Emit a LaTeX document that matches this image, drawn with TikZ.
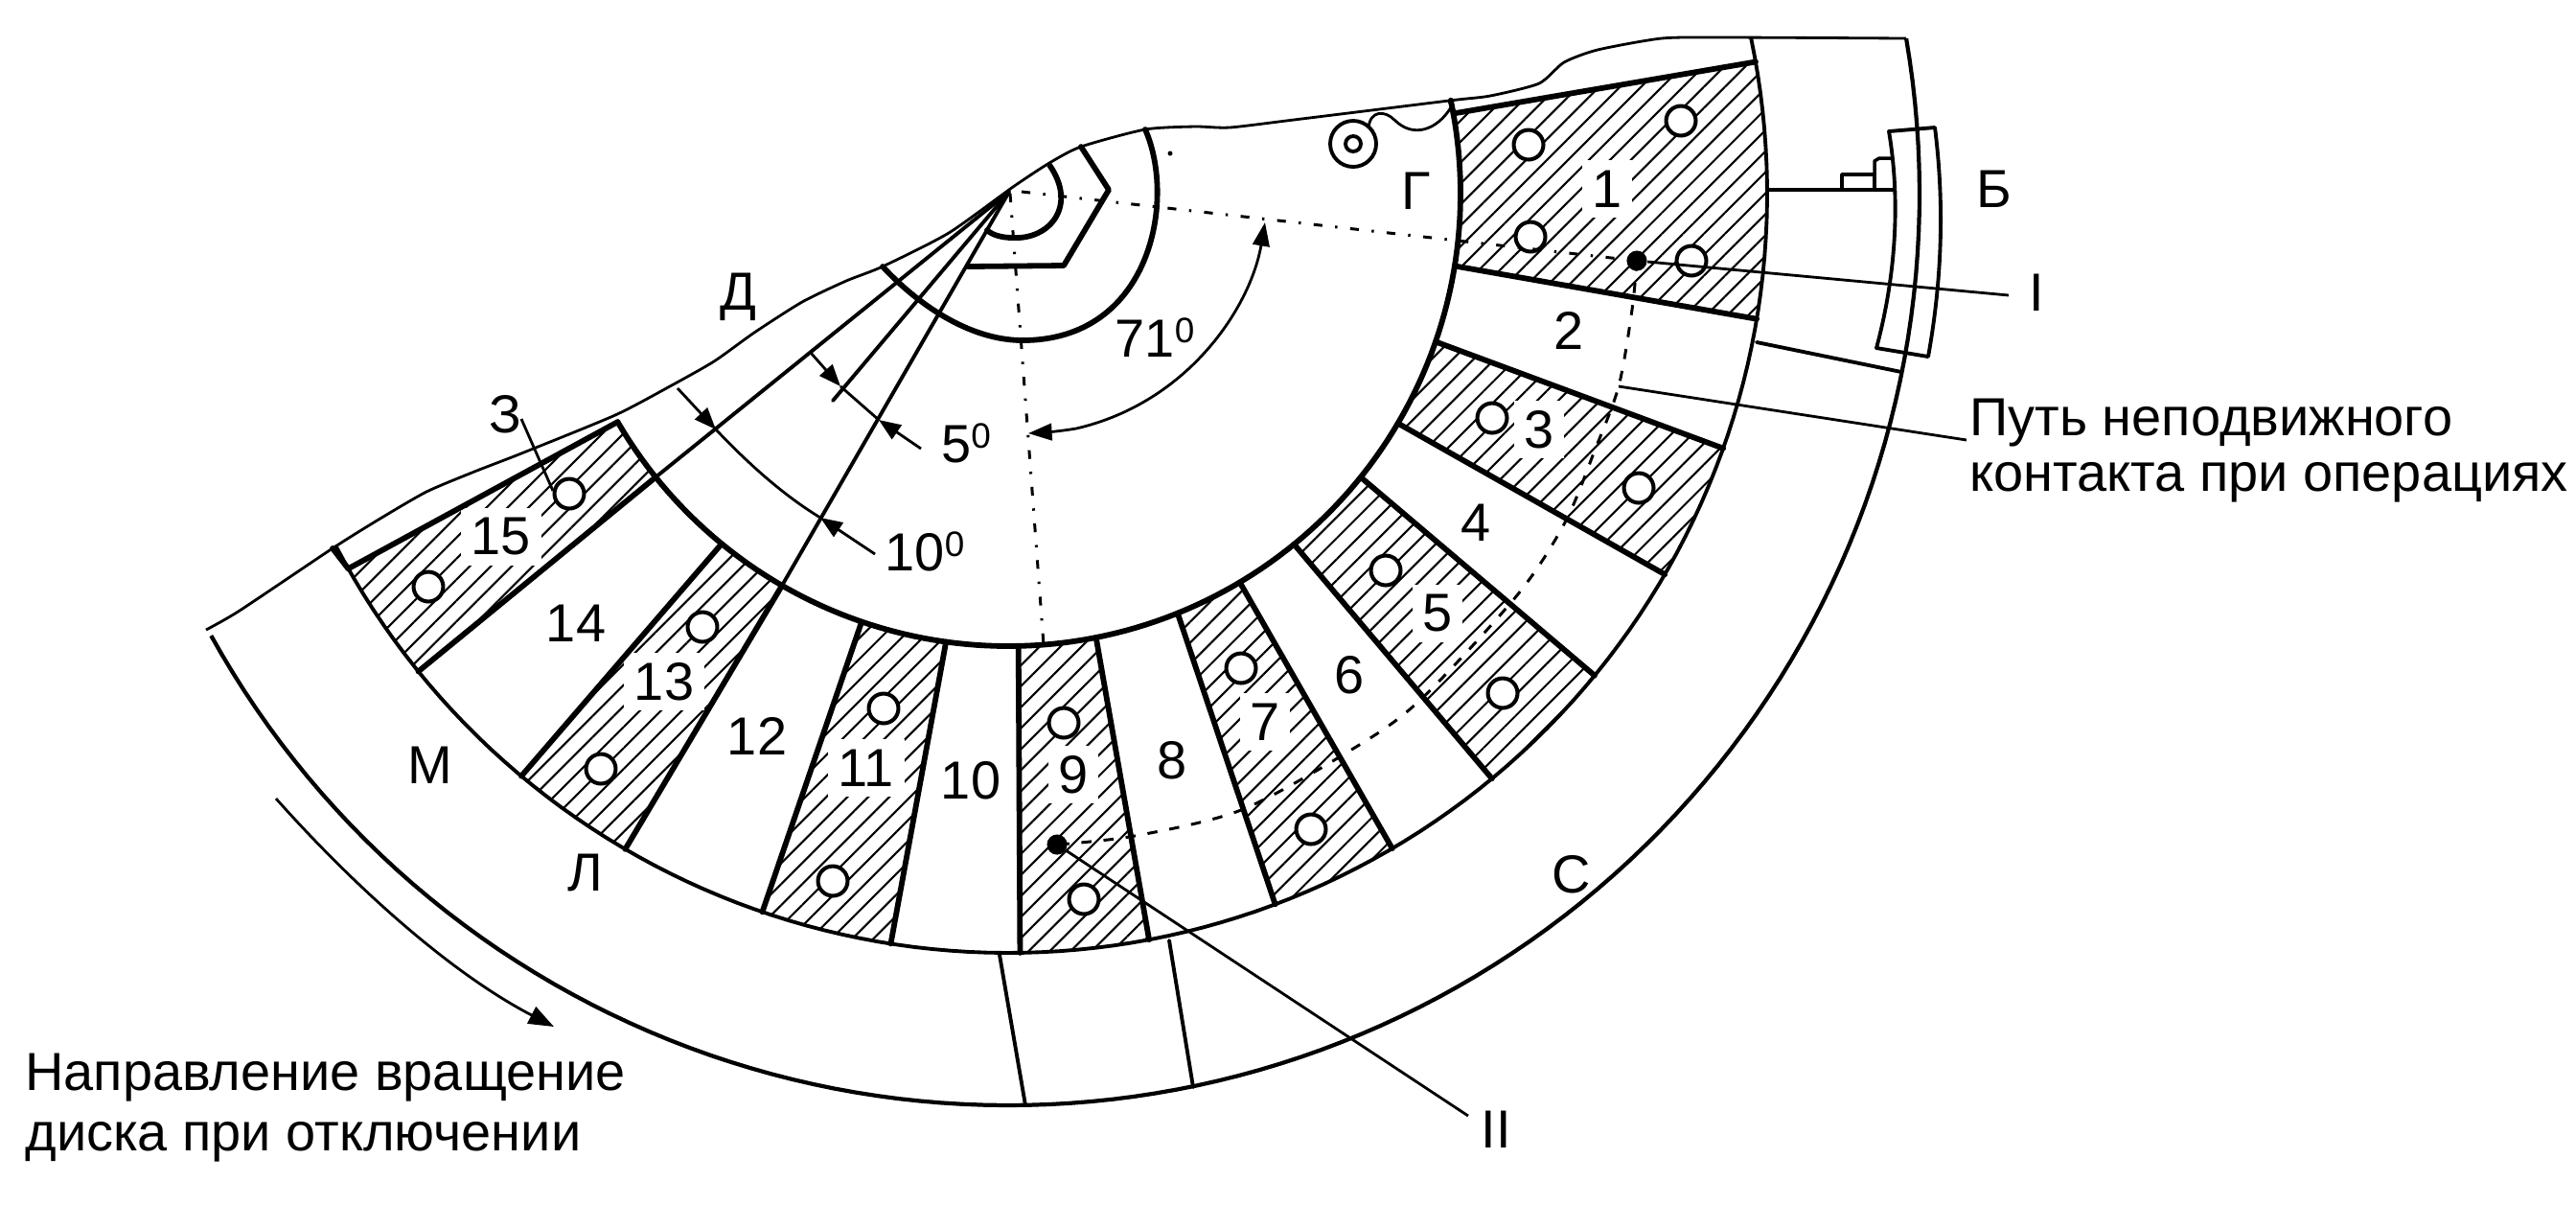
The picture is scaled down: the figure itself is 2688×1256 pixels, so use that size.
\documentclass[tikz,border=0pt]{standalone}
\usepackage{fontspec}
\setmainfont{Liberation Sans}
\usetikzlibrary{arrows.meta,patterns.meta}
\newcommand\degz[1]{#1\raisebox{4.3pt}{\fontsize{10.5}{10.5}\selectfont 0}}
\newcommand\bnd[3]{\coordinate (i#1) at ({1052+472*cos(#2)},{202+472*sin(#2)});\coordinate (o#1) at ({1052+792*cos(#3)},{202+792*sin(#3)});}
\newcommand\hsegm[6]{\fill[hatchfill] (i#1) -- (o#1) -- plot[domain=#3:#4,samples=20] ({1052+792*cos(\x)},{202+792*sin(\x)}) -- (i#2) -- plot[domain=#5:#6,samples=20] ({1052+472*cos(\x)},{202+472*sin(\x)}) -- cycle;}
\tikzset{
 hatchfill/.style={pattern={Lines[angle=45,distance=4.4pt,line width=0.6pt]},pattern color=black},
 thk/.style={line width=1.65pt,line cap=round},
 med/.style={line width=1.1pt,line cap=round},
 thn/.style={line width=0.8pt},
 ddot/.style={line width=0.85pt,dash pattern=on 2.6pt off 3.8pt on 0.7pt off 3.8pt},
 dsh/.style={line width=0.85pt,dash pattern=on 3pt off 3.6pt},
 lab/.style={font=\fontsize{15.9}{15.9}\selectfont,inner sep=0.5pt},
 num/.style={lab,fill=white,inner sep=3pt},
 hole/.style={circle,draw,fill=white,line width=1.15pt,inner sep=0pt,minimum size=8.8pt},
 spot/.style={circle,fill=black,inner sep=0pt,minimum size=6pt},
 tip/.style={-{Triangle[length=6.5pt,width=5pt]},thn},
}
\begin{document}
\begin{tikzpicture}[x=0.01cm,y=-0.01cm,line join=round]
\useasboundingbox (0,0) rectangle (2688,1256);
\bnd{0}{-10.2}{-10.0}\bnd{1}{9.2}{9.5}\bnd{2}{19.1}{19.6}\bnd{3}{30.5}{30.1}
\bnd{4}{38.8}{39.4}\bnd{5}{50.8}{50.4}\bnd{6}{59.2}{59.6}\bnd{7}{68}{69.4}
\bnd{8}{78.8}{79.3}\bnd{9}{88.7}{89.1}\bnd{10}{97.9}{98.9}\bnd{11}{108.9}{108.9}
\bnd{12}{120}{120.3}\bnd{13}{129.3}{129.9}\bnd{14}{141.2}{141}\bnd{15}{149.7}{150.4}
\hsegm{0}{1}{-10}{9.5}{9.2}{-10.2}
\hsegm{2}{3}{19.6}{30.1}{30.5}{19.1}
\hsegm{4}{5}{39.4}{50.4}{50.8}{38.8}
\hsegm{6}{7}{59.6}{69.4}{68}{59.2}
\hsegm{8}{9}{79.3}{89.1}{88.7}{78.8}
\hsegm{10}{11}{98.9}{108.9}{108.9}{97.9}
\hsegm{12}{13}{120.3}{129.9}{129.3}{120}
\hsegm{14}{15}{141}{150.4}{149.7}{141.2}
% numbers
\node[num] (n1) at (1677,197) {1};
\node[lab] (n2) at (1637,345) {2};
\node[num] (n3) at (1606,448) {3};
\node[lab] (n4) at (1540,545) {4};
\node[num] (n5) at (1500,640) {5};
\node[lab] (n6) at (1408,704) {6};
\node[num] (n7) at (1320,753) {7};
\node[lab] (n8) at (1223,793) {8};
\node[num] (n9) at (1120,808) {9};
\node[lab] (n10) at (1013,814) {10};
\node[num] (n11) at (904,801) {11};
\node[lab] (n12) at (790,768) {12};
\node[num] (n13) at (693,711) {13};
\node[lab] (n14) at (601,650) {14};
\node[num] (n15) at (523,560) {15};
% outline
\draw[thn] plot[smooth,tension=0.4] coordinates {(215,657) (250,637) (347,572) (395,542) (445,513) (495,492) (544,473) (642,433) (699,403) (745,377) (787,347) (837,315) (883,293) (921,278) (990,243) (1057,195) (1095,170) (1128,153) (1195,135) (1247,132) (1283,133) (1350,125) (1512,105) (1555,100) (1606,87) (1632,65) (1667,52) (1734,40) (1800,39) (1989,40)};
% arcs
\draw[thk] plot[domain=-11.9:149.7,samples=120] ({1052+472*cos(\x)},{202+472*sin(\x)});
\draw[med] plot[domain=-11.8:152.3,samples=120] ({1052+792*cos(\x)},{202+792*sin(\x)});
\draw[line width=1.2pt] plot[domain=-9.8:151,samples=120] ({1052+951*cos(\x)},{202+951*sin(\x)});
% boundaries
\foreach \k in {0,...,15}{\draw[thk] (i\k) -- (o\k);}
\coordinate (oend) at (347,572);
\draw[thk] (o15) -- (oend);
% holes
\foreach \nm/\p in {h1/{1595,151},h2/{1754,126},h3/{1597,247},h4/{1765,272},h5/{1557,436},h6/{1710,509},h7/{1446,595},h8/{1568,723},h9/{1295,697},h10/{1368,865},h11/{1110,754},h12/{1131,938},h13/{922,739},h14/{869,919},h15/{733,654},h16/{627,802},h17/{594,515},h18/{447,612}}{\node[hole] (\nm) at (\p) {};}
% centre
\coordinate (C) at (1053,200);
\draw[thk] (1195,135) .. controls (1228,210) and (1200,355) .. (1067,355) .. controls (1010,355) and (955,315) .. (921,278);
\draw[thk] (1095,172) .. controls (1125,215) and (1095,250) .. (1057,248) .. controls (1045,248) and (1035,245) .. (1030,240);
\draw[thk] (1128,153) -- (1157,198) -- (1110,277) -- (1010,278);
\draw[med] (C) -- (i14);
\draw[med] (C) -- (i12);
\coordinate (Lb) at (869,418);
\draw[med] (C) -- (Lb);
% centre lines
\coordinate (dI) at (1708,272);
\coordinate (dII) at (1103,881);
\coordinate (botC) at (1089,673);
\draw[ddot] (1066,200) -- (dI);
\draw[ddot] (1054,202) -- (botC);
\draw[dsh] plot[smooth] coordinates {(1708,272) (1703,323) (1689,403) (1664,470) (1633,545) (1583,621) (1480,732) (1407,784) (1295,845) (1184,872) (1103,881)};
% dimension marks
\coordinate (a5s) at (846,368);\coordinate (a5a) at (877,403);\coordinate (a5b) at (917,438);\coordinate (a5e) at (961,468);
\draw[tip] (a5s) -- (a5a);
\draw[thn] (a5a) -- (a5b);
\draw[tip] (a5e) -- (a5b);
\coordinate (a10s) at (707,405);\coordinate (a10a) at (747,448);\coordinate (a10b) at (856,540);\coordinate (a10e) at (913,578);
\draw[tip] (a10s) -- (a10a);
\draw[thn] (a10a) .. controls (785,488) and (820,518) .. (a10b);
\draw[tip] (a10e) -- (a10b);
\coordinate (a71a) at (1320,232);\coordinate (a71b) at (1073,452);
\draw[{Triangle[length=7pt,width=5pt]}-{Triangle[length=7pt,width=5pt]},thn] (a71a) .. controls (1305,320) and (1240,420) .. (1123,447) .. controls (1105,450) and (1090,451) .. (a71b);
% spots and leaders
\node[spot] (dotI) at (dI) {};
\node[spot] (dotII) at (dII) {};
\node[lab] (lI) at (2125,305) {I};
\node[lab] (lII) at (1561,1178) {II};
\coordinate (lIe) at (2096,308);
\coordinate (lIIe) at (1532,1164);
\draw[thn] (dotI) -- (lIe);
\draw[thn] (dotII) -- (lIIe);
\coordinate (pth) at (1689,403);\coordinate (pthe) at (2052,459);
\draw[thn] (pth) -- (pthe);
\coordinate (z3a) at (544,437);\coordinate (z3b) at (577,512);
\draw[thn] (z3a) -- (z3b);
% ring separators
\draw[med] (1043,996) -- (1070,1153);
\draw[med] (1220,981) -- (1245,1134);
\draw[med] (1833,357) -- (1984,388);
% B bracket
\draw[line width=1.1pt] (1971,137) -- (2019,133) .. controls (2030,220) and (2025,300) .. (2012,372) -- (1958,363) .. controls (1975,300) and (1985,220) .. (1971,137) -- cycle;
\draw[line width=1.2pt] (1846,198) -- (1978,198);
\draw[line width=1pt] (1922,198) -- (1922,182) -- (1956,182) -- (1956,198);
\draw[line width=1pt] (1956,182) -- (1956,168) -- (1961,165) -- (1973,165);
% G bolt
\coordinate (bolt) at (1412,150);
\draw[line width=1.1pt] (bolt) circle [radius=24];
\draw[line width=1.1pt] (bolt) circle [radius=8];
\draw[thn] (1428,133) .. controls (1430,115) and (1445,115) .. (1455,125) .. controls (1475,145) and (1500,135) .. (1514,112);
\draw[thn] (1512,105) -- (i0);
\fill (1221,160) circle [radius=2.5];
% rotation arrow
\coordinate (rs) at (288,833);\coordinate (re) at (578,1071);
\draw[-{Triangle[length=7.5pt,width=5.5pt]},thn] (rs) .. controls (370,925) and (470,1015) .. (re);
% labels
\node[lab] (lb) at (2081,197) {Б};
\node[lab] (lg) at (1478,199) {Г};
\node[lab] (ld) at (770,310) {Д};
\node[lab] (lz) at (527,432) {З};
\node[lab] (lm) at (449,798) {М};
\node[lab] (ll) at (611,910) {Л};
\node[lab] (lc) at (1640,912) {С};
\node[lab] (d71) at (1205,352) {\degz{71}};
\node[lab] (d5) at (1008,462) {\degz{5}};
\node[lab] (d10) at (965,575) {\degz{10}};
\node[lab,anchor=west] (t1) at (2053,441) {Путь неподвижного};
\node[lab,anchor=west] (t2) at (2053,503) {контакта при операциях};
\node[lab,anchor=west] (t3) at (24,1124) {Направление вращение};
\node[lab,anchor=west] (t4) at (24,1191) {диска при отключении};
\end{tikzpicture}
\end{document}
